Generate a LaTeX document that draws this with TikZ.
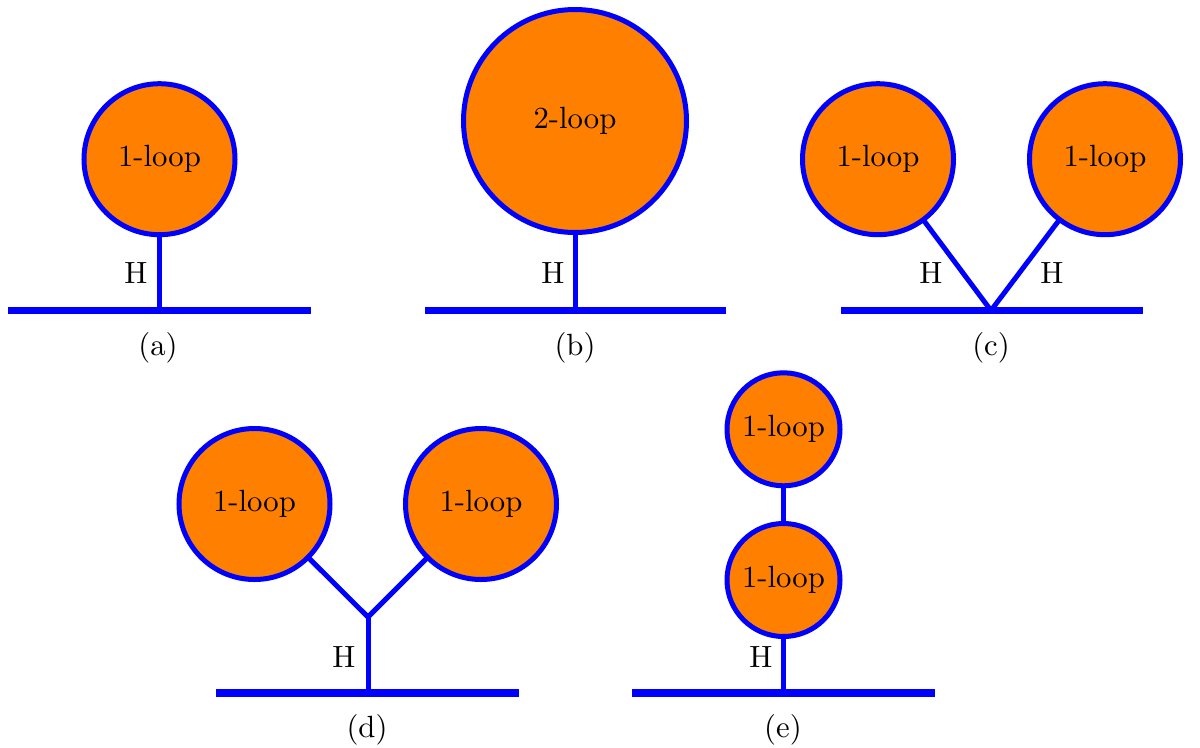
\documentclass[tikz,border=0pt]{standalone}
\definecolor{loopfill}{RGB}{255,128,0}
\def\pxu{0.3257pt}
\begin{document}
\begin{tikzpicture}[x=0.3257pt,y=-0.3257pt,
  loopnode/.style={circle,draw=blue,fill=loopfill,line width=1.63pt,inner sep=0pt,outer sep=0pt},
  oneloop/.style={loopnode,minimum size={151*\pxu}},
  twoloop/.style={loopnode,minimum size={223*\pxu}},
  smallloop/.style={loopnode,minimum size={113*\pxu}},
  prop/.style={draw=blue,line width=1.63pt},
  bar/.style={draw=blue,line width=2.44pt},
  lbl/.style={inner sep=0pt}]
\useasboundingbox (0,0) rectangle (1200,747);

% (a)
\coordinate (aL) at (8,310.5);
\coordinate (aR) at (311,310.5);
\coordinate (aJ) at (159.5,310.5);
\draw[bar] (aL) -- (aR);
\node[oneloop] (a1) at (159.5,159.2) {1-loop};
\draw[prop] (a1) -- (aJ);
\node[lbl] (aH) at (136,273) {H};
\node[lbl] (acap) at (158,348) {(a)};

% (b)
\coordinate (bL) at (425,310.5);
\coordinate (bR) at (726,310.5);
\coordinate (bJ) at (575,310.5);
\draw[bar] (bL) -- (bR);
\node[twoloop] (b1) at (575,121) {2-loop};
\draw[prop] (b1) -- (bJ);
\node[lbl] (bH) at (553,273) {H};
\node[lbl] (bcap) at (575,348) {(b)};

% (c)
\coordinate (cL) at (841,310.5);
\coordinate (cR) at (1143,310.5);
\coordinate (cJ) at (991,310.5);
\draw[bar] (cL) -- (cR);
\node[oneloop] (c1) at (878,159.2) {1-loop};
\node[oneloop] (c2) at (1105,159.2) {1-loop};
\draw[prop] (c1) -- (cJ);
\draw[prop] (c2) -- (cJ);
\node[lbl] (cH1) at (931,273) {H};
\node[lbl] (cH2) at (1052,273) {H};
\node[lbl] (ccap) at (991,348) {(c)};

% (d)
\coordinate (dL) at (216,693);
\coordinate (dR) at (519,693);
\coordinate (dJ) at (368,693);
\coordinate (dY) at (368,617);
\draw[bar] (dL) -- (dR);
\node[oneloop] (d1) at (254.5,504) {1-loop};
\node[oneloop] (d2) at (481,504) {1-loop};
\draw[prop] (d1) -- (dY);
\draw[prop] (d2) -- (dY);
\draw[prop] (dY) -- (dJ);
\node[lbl] (dH) at (344,657) {H};
\node[lbl] (dcap) at (367,730) {(d)};

% (e)
\coordinate (eL) at (632,693);
\coordinate (eR) at (935,693);
\coordinate (eJ) at (783.5,693);
\draw[bar] (eL) -- (eR);
\node[smallloop] (e1) at (783.5,429.3) {1-loop};
\node[smallloop] (e2) at (783.5,580) {1-loop};
\draw[prop] (e1) -- (e2);
\draw[prop] (e2) -- (eJ);
\node[lbl] (eH) at (761,657) {H};
\node[lbl] (ecap) at (783,730) {(e)};
\end{tikzpicture}
\end{document}
